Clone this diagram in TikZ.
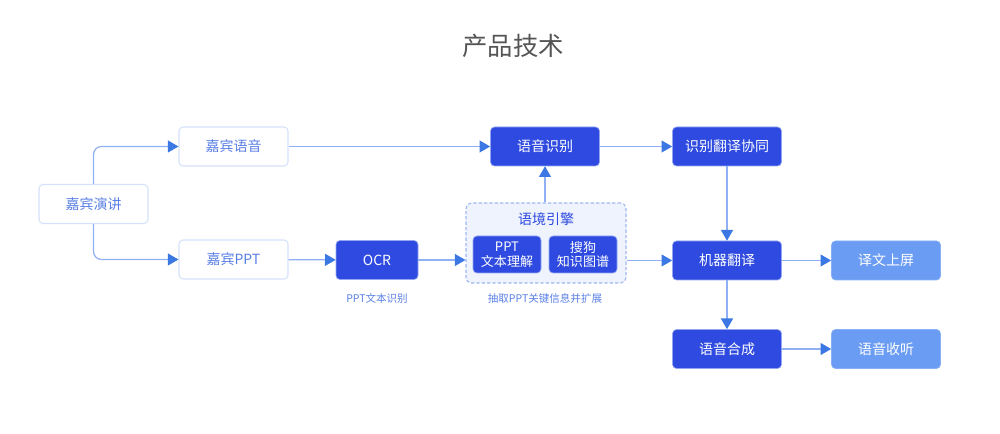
\documentclass[tikz,border=0pt]{standalone}
\usepackage{fontspec}
\setmainfont{Noto Sans CJK SC}
\usetikzlibrary{arrows.meta}
\definecolor{darkb}{HTML}{2E4AE0}
\definecolor{lightb}{HTML}{6A9CF4}
\definecolor{wtxt}{HTML}{5A80E6}
\definecolor{wbord}{HTML}{D6E1FA}
\definecolor{lineb}{HTML}{90B0F4}
\definecolor{tipb}{HTML}{3B78E4}
\definecolor{contf}{HTML}{EEF3FE}
\definecolor{contb}{HTML}{A0B8F0}
\definecolor{titleg}{HTML}{555555}
\definecolor{labb}{HTML}{5A80E6}
\tikzset{
  x=0.75pt, y=-0.75pt,
  box/.style={rounded corners=3pt, minimum width=81.75pt, minimum height=29.25pt, inner sep=0pt, font=\fontsize{10.5}{12}\selectfont},
  wbox/.style={box, draw=wbord, line width=0.8pt, fill=white, text=wtxt},
  dbox/.style={box, draw=wbord!60!darkb, line width=0.5pt, fill=darkb, text=white},
  lbox/.style={box, draw=lightb!80!white, line width=0.5pt, fill=lightb, text=white},
  ibox/.style={rounded corners=3pt, minimum width=51pt, minimum height=27.75pt, inner sep=0pt, fill=darkb, draw=wbord!60!darkb, line width=0.5pt, text=white, align=center, font=\fontsize{9.8}{11}\selectfont},
  conn/.style={draw=lineb, line width=0.9pt, -{Triangle[length=8pt,width=9pt,color=tipb]}},
  lab/.style={text=labb, font=\fontsize{7.9}{9}\selectfont},
}
\begin{document}
\begin{tikzpicture}
\useasboundingbox (0,0) rectangle (1000,434);
\node[text=titleg, font=\fontsize{19}{22}\selectfont] (title) at (513,46) {产品技术};

\node[wbox] (jyyj) at (93.5,204) {嘉宾演讲};
\node[wbox] (jyyy) at (233.5,146.5) {嘉宾语音};
\node[wbox] (jppt) at (233.5,259.5) {嘉宾PPT};
\node[dbox, minimum width=61.5pt] (ocr) at (377,260) {OCR};
\node[dbox] (yysb) at (545,146.5) {语音识别};
\node[dbox] (sbfy) at (727,146.5) {识别翻译协同};
\node[dbox] (jqfy) at (727,260.5) {机器翻译};
\node[lbox] (ywsp) at (886,260.5) {译文上屏};
\node[dbox] (yyhc) at (727,349) {语音合成};
\node[lbox] (yysl) at (886,349) {语音收听};

\node[draw=contb, dashed, dash pattern=on 2.5pt off 1.5pt, line width=0.8pt, fill=contf, rounded corners=4pt, minimum width=120pt, minimum height=60pt, inner sep=0pt] (ctx) at (546,243) {};
\node[text=darkb, font=\fontsize{10.5}{12}\selectfont] (ctxt) at (546,219) {语境引擎};
\node[ibox] (pptu) at (507,254.5) {PPT\\文本理解};
\node[ibox] (sgzs) at (583,254.5) {搜狗\\知识图谱};

\node[lab] (l1) at (377,298) {PPT文本识别};
\node[lab] (l2) at (545,298) {抽取PPT关键信息并扩展};

\draw[conn, rounded corners=6pt] (jyyj.north) |- (jyyy.west);
\draw[conn, rounded corners=6pt] (jyyj.south) |- (jppt.west);
\draw[conn] (jyyy) -- (yysb);
\draw[conn] (jppt) -- (ocr);
\draw[conn] (ocr) -- (ctx.west |- ocr);
\draw[conn] (ctx.north -| yysb) -- (yysb.south);
\draw[conn] (ctx.east |- jqfy) -- (jqfy.west);
\draw[conn] (yysb) -- (sbfy);
\draw[conn] (sbfy) -- (jqfy);
\draw[conn] (jqfy) -- (ywsp);
\draw[conn] (jqfy) -- (yyhc);
\draw[conn] (yyhc) -- (yysl);
\end{tikzpicture}
\end{document}
